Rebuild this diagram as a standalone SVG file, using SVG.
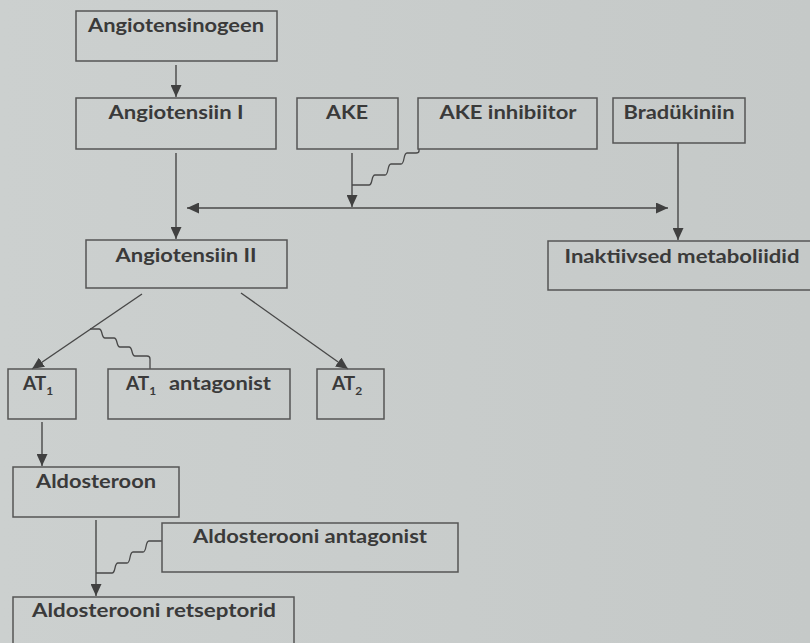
<svg xmlns="http://www.w3.org/2000/svg" width="810" height="643" viewBox="0 0 810 643">
<defs>
<linearGradient id="bg" x1="0" y1="0" x2="1" y2="0">
<stop offset="0" stop-color="#ccd0cf"/>
<stop offset="1" stop-color="#c5c9c8"/>
</linearGradient>
<marker id="ah" markerUnits="userSpaceOnUse" markerWidth="12" markerHeight="11" refX="12" refY="5.5" orient="auto-start-reverse" viewBox="0 0 12 11">
<path d="M0,0 L12,5.5 L0,11 z" fill="#404040"/>
</marker>
<style>
.box{fill:none;stroke:#555;stroke-width:1.5}
.t{font-family:Lato,"Open Sans","DejaVu Sans",sans-serif;font-weight:700;font-size:19px;fill:#3a3a3a;text-anchor:middle}
.ts{font-family:Lato,"Open Sans","DejaVu Sans",sans-serif;font-weight:700;font-size:19px;fill:#3a3a3a}
.c{fill:none;stroke:#484848;stroke-width:1.4}
.a{marker-end:url(#ah)}
.w{fill:none;stroke:#484848;stroke-width:1.3;stroke-linejoin:round}
</style>
</defs>
<rect x="0" y="0" width="810" height="643" fill="url(#bg)"/>

<g id="connectors">
<line class="c a" x1="176" y1="65" x2="176" y2="97"/>
<line class="c a" x1="176" y1="153" x2="176" y2="239"/>
<line class="c a" x1="352" y1="153" x2="352" y2="207"/>
<line class="c a" x1="187" y1="208" x2="668" y2="208" style="marker-start:url(#ah)"/>
<line class="c a" x1="678" y1="143" x2="678" y2="240"/>
<line class="c a" x1="142" y1="294" x2="32" y2="369"/>
<line class="c a" x1="241" y1="293" x2="348" y2="369"/>
<line class="c a" x1="42" y1="422" x2="42" y2="466"/>
<line class="c a" x1="96" y1="520" x2="96" y2="596"/>
<path class="w" d="M419,149 V151 q0,2 -3,2 h-9 c-4,0 -2,11 -6,11 h-10 c-4,0 -2,11 -6,11 h-10 c-4,0 -2,10 -6,10 H352"/>
<path class="w" d="M90,329 h9 c4,0 2,9 6,9 h9 c4,0 2,9 6,9 h9 c4,0 2,9 6,9 h12 q3,0 3,3 V369"/>
<path class="w" d="M162,541 h-13 c-4,0 -2,11 -6,11 h-10 c-4,0 -2,11 -6,11 h-9 c-4,0 -2,10 -6,10 H96"/>
</g>

<g id="angiotensinogeen">
<rect class="box" x="76" y="11" width="201" height="50"/>
<text class="t" x="176" y="32" textLength="176" lengthAdjust="spacingAndGlyphs">Angiotensinogeen</text>
</g>
<g id="angiotensiin-i">
<rect class="box" x="76" y="98" width="200" height="51"/>
<text class="t" x="176" y="119" textLength="135" lengthAdjust="spacingAndGlyphs">Angiotensiin I</text>
</g>
<g id="ake">
<rect class="box" x="297" y="98" width="101" height="51"/>
<text class="t" x="347" y="119" textLength="42" lengthAdjust="spacingAndGlyphs">AKE</text>
</g>
<g id="ake-inhibiitor">
<rect class="box" x="418" y="98" width="179" height="51"/>
<text class="t" x="508" y="119" textLength="137" lengthAdjust="spacingAndGlyphs">AKE inhibiitor</text>
</g>
<g id="bradukiniin">
<rect class="box" x="613" y="98" width="132" height="45"/>
<text class="t" x="679" y="119" textLength="111" lengthAdjust="spacingAndGlyphs">Bradükiniin</text>
</g>
<g id="angiotensiin-ii">
<rect class="box" x="86" y="240" width="201" height="48"/>
<text class="t" x="186" y="262" textLength="141" lengthAdjust="spacingAndGlyphs">Angiotensiin II</text>
</g>
<g id="inaktiivsed">
<rect class="box" x="548" y="241" width="270" height="49"/>
<text class="t" x="682" y="263" textLength="235" lengthAdjust="spacingAndGlyphs">Inaktiivsed metaboliidid</text>
</g>
<g id="at1">
<rect class="box" x="8" y="369" width="68" height="50"/>
<text class="ts" x="23" y="390">AT<tspan font-size="12" dy="5">1</tspan></text>
</g>
<g id="at1-antagonist">
<rect class="box" x="108" y="369" width="182" height="50"/>
<text class="ts" x="126" y="390">AT<tspan font-size="12" dy="5">1</tspan></text>
<text class="ts" x="169" y="390" textLength="102" lengthAdjust="spacingAndGlyphs">antagonist</text>
</g>
<g id="at2">
<rect class="box" x="317" y="369" width="67" height="50"/>
<text class="ts" x="332" y="390">AT<tspan font-size="12" dy="5">2</tspan></text>
</g>
<g id="aldosteroon">
<rect class="box" x="13" y="467" width="166" height="50"/>
<text class="t" x="96" y="488" textLength="120" lengthAdjust="spacingAndGlyphs">Aldosteroon</text>
</g>
<g id="aldosterooni-antagonist">
<rect class="box" x="162" y="523" width="296" height="49"/>
<text class="t" x="310" y="543" textLength="234" lengthAdjust="spacingAndGlyphs">Aldosterooni antagonist</text>
</g>
<g id="aldosterooni-retseptorid">
<rect class="box" x="13" y="597" width="281" height="60"/>
<text class="t" x="154" y="617" textLength="244" lengthAdjust="spacingAndGlyphs">Aldosterooni retseptorid</text>
</g>
</svg>
